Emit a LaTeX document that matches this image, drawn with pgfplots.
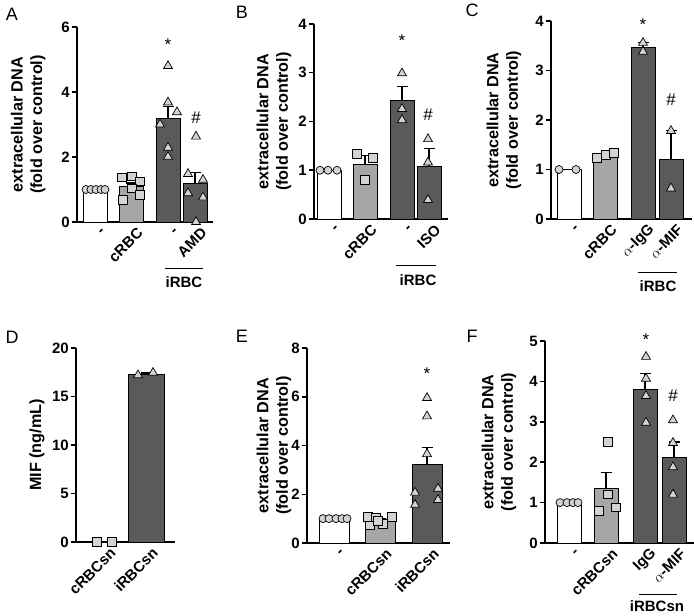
\documentclass[border=0pt]{standalone}
\usepackage{fontspec}
\setmainfont{Liberation Sans}
\usepackage{pgfplots}
\pgfplotsset{compat=1.18}
\definecolor{lg}{HTML}{A6A6A6}
\definecolor{dg}{HTML}{5A5A5A}
\definecolor{mk}{HTML}{D3D3D3}
\newcommand{\tf}{\bfseries\fontsize{15}{15}\selectfont}
\newcommand{\xf}{\bfseries\fontsize{15}{16}\selectfont}
\newcommand{\lf}{\bfseries\fontsize{16.2}{19.5}\selectfont}
\newcommand{\af}{\fontsize{17}{17}\selectfont}
\newcommand{\pf}{\fontsize{18}{18}\selectfont}
\pgfplotsset{
  panel/.style={scale only axis, clip=false, enlargelimits=false, xmin=0, ymin=0,
    axis x line*=bottom, axis y line*=left, axis line style={-, line width=1.5pt},
    tick align=outside, major tick length=5pt,
    xtick style={draw=none}, ytick style={line width=1.5pt, black},
    /pgf/number format/assume math mode=true,
    yticklabel style={font=\tf, inner sep=2pt},
    xticklabel style={font=\xf, rotate=45, anchor=east, xshift=5pt, yshift=-9pt, inner sep=1pt},
    every axis y label/.style={rotate=90, anchor=center, align=center, font=\lf},
  },
  barW/.style={ybar, bar shift=0pt, fill=white, draw=black, line width=0.8pt},
  barL/.style={ybar, bar shift=0pt, fill=lg, draw=black, line width=0.8pt},
  barD/.style={ybar, bar shift=0pt, fill=dg, draw=black, line width=0.8pt},
  eb/.style={error bars/.cd, y dir=plus, y explicit,
    error bar style={line width=1.1pt, black},
    error mark options={rotate=90, mark size=5.5pt, line width=1.1pt, black}},
  circ/.style={only marks, mark=*, mark size=4pt, mark options={fill=mk, draw=black, line width=0.7pt}},
  sq/.style={only marks, mark=square*, mark size=4.3pt, mark options={fill=mk, draw=black, line width=0.7pt}},
  tri/.style={only marks, mark=triangle*, mark size=5.2pt, mark options={fill=mk, draw=black, line width=0.7pt}},
}
\begin{document}
\begin{tikzpicture}
\path[use as bounding box] (0pt,0pt) rectangle (694pt,616pt);
% panel letters
\node[font=\pf] at (12pt,602pt) {A};
\node[font=\pf] at (242pt,604pt) {B};
\node[font=\pf] at (472pt,606pt) {C};
\node[font=\pf] at (12pt,279pt) {D};
\node[font=\pf] at (242pt,280pt) {E};
\node[font=\pf] at (472pt,280pt) {F};

% ---------------- A
\begin{axis}[panel, at={(77pt,394pt)}, anchor=south west, width=136pt, height=195pt,
  xmax=136, ymax=6, ytick={0,2,4,6}, bar width=24,
  xtick={18,54,91,118}, xticklabels={-,cRBC,-,AMD},
  ylabel={extracellular DNA\\(fold over control)},
  ylabel style={at={(axis description cs:-0.358,0.5)}}]
\addplot[barW] coordinates {(18,1.0)};
\addplot[barL, eb] coordinates {(54,1.08) +- (0,0.12)};
\addplot[barD, eb] coordinates {(91,3.18) +- (0,0.37)};
\addplot[barD, eb] coordinates {(118,1.18) +- (0,0.34)};
\addplot[circ] coordinates {(9,1)(14,1)(19,1)(24,1)(28,1)};
\addplot[sq] coordinates {(45,1.37)(55,1.40)(63,1.25)(55,1.04)(46,0.69)(63,0.84)};
\addplot[tri] coordinates {(91,4.8)(91,3.68)(83,3.0)(100,3.38)(91,2.29)(91,2.01)};
\addplot[tri] coordinates {(119,2.63)(111,1.48)(111,0.89)(126,1.30)(126,0.76)(119,0)};
\node[font=\af] at (axis cs:91,5.45) {*};
\node[font=\af] at (axis cs:119,3.2) {\#};
\draw[line width=0.8pt] ([yshift=-46pt]axis cs:88,0) -- ([yshift=-46pt]axis cs:126,0);
\node[font=\xf] at ([yshift=-60pt]axis cs:107,0) {iRBC};
\end{axis}

% ---------------- B
\begin{axis}[panel, at={(314pt,397pt)}, anchor=south west, width=134pt, height=195pt,
  xmax=134, ymax=4, ytick={0,1,2,3,4}, bar width=24,
  xtick={15,51,88,115}, xticklabels={-,cRBC,-,ISO},
  ylabel={extracellular DNA\\(fold over control)},
  ylabel style={at={(axis description cs:-0.299,0.5)}}]
\addplot[barW] coordinates {(15,1.0)};
\addplot[barL, eb] coordinates {(51,1.13) +- (0,0.17)};
\addplot[barD, eb] coordinates {(88,2.43) +- (0,0.29)};
\addplot[barD, eb] coordinates {(115,1.08) +- (0,0.36)};
\addplot[circ] coordinates {(6,1)(14,1)(23,1)};
\addplot[sq] coordinates {(43,1.34)(59,1.25)(51,0.80)};
\addplot[tri] coordinates {(88,2.99)(88,2.26)(88,2.03)};
\addplot[tri] coordinates {(114,1.64)(114,1.16)(114,0.39)};
\node[font=\af] at (axis cs:88,3.66) {*};
\node[font=\af] at (axis cs:114,2.14) {\#};
\draw[line width=0.8pt] ([yshift=-46pt]axis cs:82,0) -- ([yshift=-46pt]axis cs:122,0);
\node[font=\xf] at ([yshift=-61pt]axis cs:104,0) {iRBC};
\end{axis}

% ---------------- C
\begin{axis}[panel, at={(551pt,397pt)}, anchor=south west, width=141pt, height=198pt,
  xmax=141, ymax=4, ytick={0,1,2,3,4}, bar width=24,
  xtick={18,54,92,120}, xticklabels={-,cRBC,$\alpha$-IgG,$\alpha$-MIF},
  ylabel={extracellular DNA\\(fold over control)},
  ylabel style={at={(axis description cs:-0.333,0.5)}}]
\addplot[barW] coordinates {(18,1.0)};
\addplot[barL, eb] coordinates {(54,1.29) +- (0,0.04)};
\addplot[barD, eb] coordinates {(92,3.47) +- (0,0.09)};
\addplot[barD, eb] coordinates {(120,1.20) +- (0,0.58)};
\addplot[circ] coordinates {(8,1)(25,1)};
\addplot[sq] coordinates {(46,1.23)(55,1.29)(63,1.34)};
\addplot[tri] coordinates {(92,3.56)(92,3.38)};
\addplot[tri] coordinates {(120,1.78)(120,0.62)};
\node[font=\af] at (axis cs:92,3.92) {*};
\node[font=\af] at (axis cs:120,2.41) {\#};
\draw[line width=0.8pt] ([yshift=-53pt]axis cs:87,0) -- ([yshift=-53pt]axis cs:126,0);
\node[font=\xf] at ([yshift=-67pt]axis cs:107,0) {iRBC};
\end{axis}

% ---------------- D
\begin{axis}[panel, at={(76pt,74pt)}, anchor=south west, width=99pt, height=194pt,
  xmax=99, ymax=20, ytick={0,5,10,15,20}, bar width=36,
  xtick={28,70}, xticklabels={cRBCsn,iRBCsn},
  ylabel={MIF (ng/mL)},
  ylabel style={at={(axis description cs:-0.394,0.5)}}]
\addplot[barD, eb] coordinates {(70,17.32) +- (0,0.1)};
\addplot[sq] coordinates {(21,0)(36,0)};
\addplot[tri] coordinates {(62,17.2)(77,17.45)};
\end{axis}

% ---------------- E
\begin{axis}[panel, at={(307pt,73pt)}, anchor=south west, width=143pt, height=195pt,
  xmax=143, ymax=8, ytick={0,2,4,6,8}, bar width=30,
  xtick={27,73,120}, xticklabels={-,cRBCsn,iRBCsn},
  ylabel={extracellular DNA\\(fold over control)},
  ylabel style={at={(axis description cs:-0.231,0.5)}}]
\addplot[barW] coordinates {(27,1.0)};
\addplot[barL, eb] coordinates {(73,0.94) +- (0,0.06)};
\addplot[barD, eb] coordinates {(120,3.21) +- (0,0.69)};
\addplot[circ] coordinates {(16,1)(22,1)(29,1)(35,1)(40,1)};
\addplot[sq] coordinates {(61,1.08)(69,1.06)(85,1.08)(63,0.72)(76,0.78)(71,0.9)};
\addplot[tri] coordinates {(120,5.95)(120,5.2)(120,3.65)(108,2.07)(108,1.57)(131,2.23)(131,1.77)};
\node[font=\af] at (axis cs:120,6.95) {*};
\end{axis}

% ---------------- F
\begin{axis}[panel, at={(545pt,73pt)}, anchor=south west, width=149pt, height=202pt,
  xmax=149, ymax=5, ytick={0,1,2,3,4,5}, bar width=24,
  xtick={24,61,100,129}, xticklabels={-,cRBCsn,IgG,$\alpha$-MIF},
  ylabel={extracellular DNA\\(fold over control)},
  ylabel style={at={(axis description cs:-0.309,0.5)}}]
\addplot[barW] coordinates {(24,1.0)};
\addplot[barL, eb] coordinates {(61,1.35) +- (0,0.39)};
\addplot[barD, eb] coordinates {(100,3.80) +- (0,0.40)};
\addplot[barD, eb] coordinates {(129,2.12) +- (0,0.38)};
\addplot[circ] coordinates {(15,1)(22,1)(28,1)(33,1)};
\addplot[sq] coordinates {(63,2.50)(63,1.20)(54,0.79)(71,0.88)};
\addplot[tri] coordinates {(101,4.61)(101,4.07)(101,3.64)(101,2.98)};
\addplot[tri] coordinates {(128,3.04)(128,2.48)(128,1.88)(128,1.2)};
\node[font=\af] at (axis cs:101,5.03) {*};
\node[font=\af] at (axis cs:128,3.64) {\#};
\draw[line width=0.8pt] ([yshift=-51pt]axis cs:94,0) -- ([yshift=-51pt]axis cs:132,0);
\node[font=\xf] at ([yshift=-63pt]axis cs:112,0) {iRBCsn};
\end{axis}
\end{tikzpicture}
\end{document}
